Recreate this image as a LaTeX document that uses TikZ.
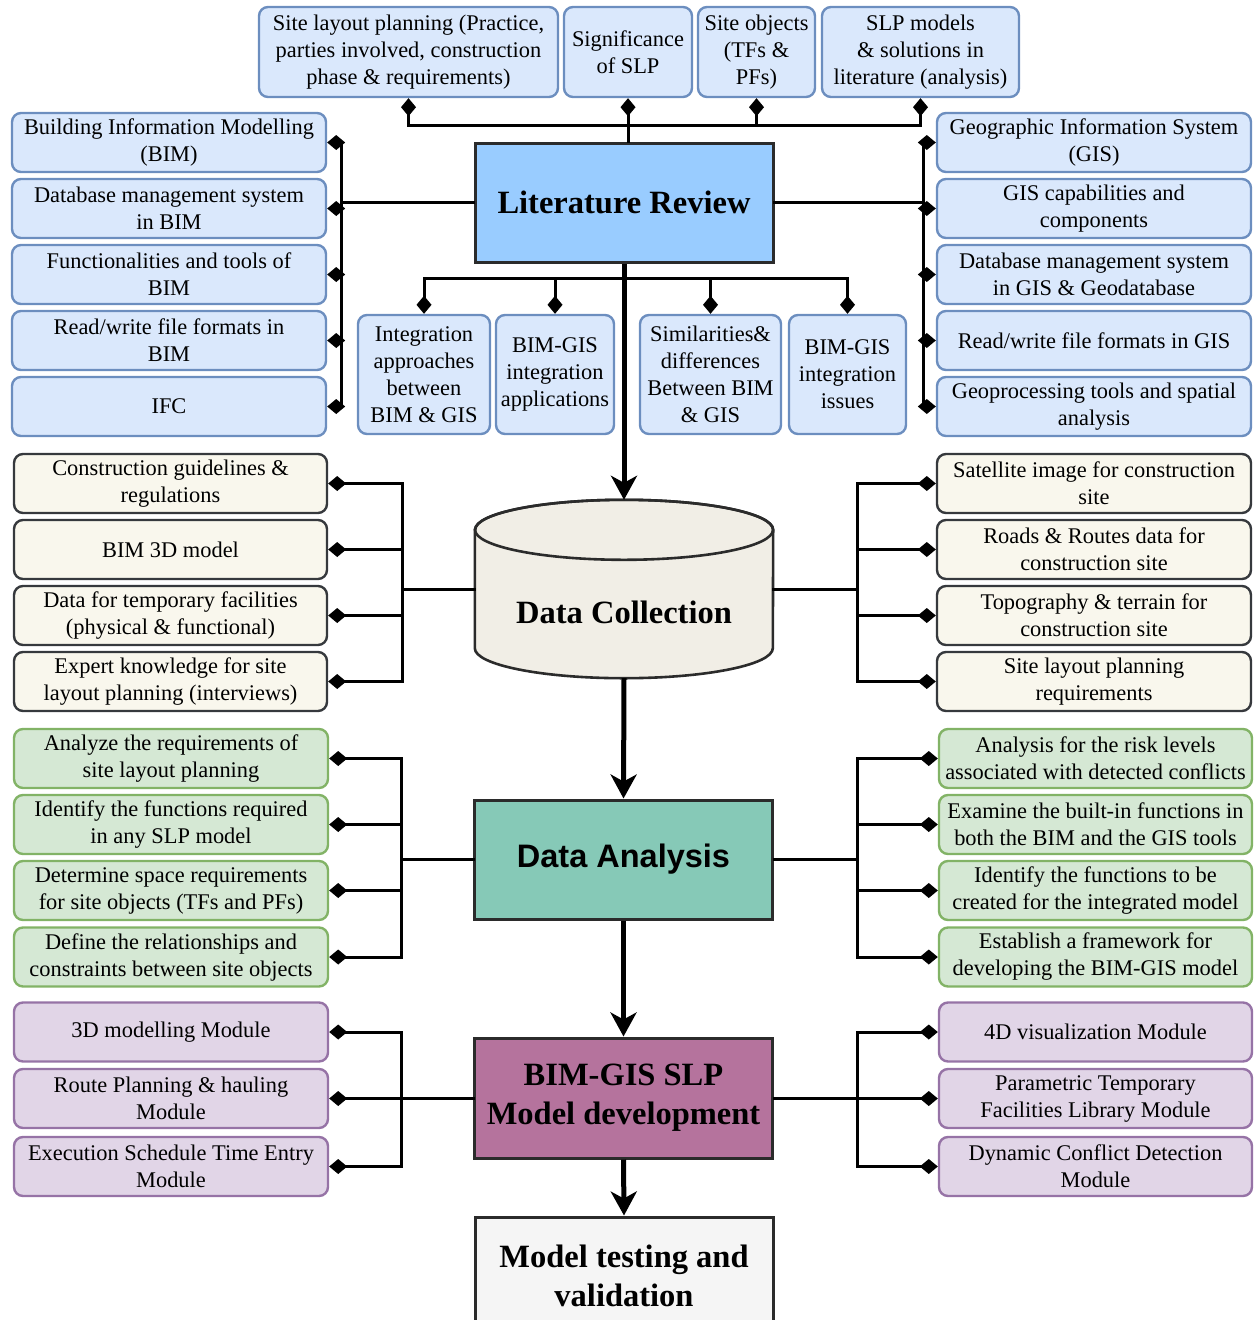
\documentclass[tikz,border=0pt]{standalone}
\usepackage{fontspec}
\setmainfont{Liberation Serif}
\newfontfamily\headsans{Liberation Sans}
\usetikzlibrary{arrows.meta,calc}

\definecolor{bluefill}{HTML}{DAE8FC}
\definecolor{blueline}{HTML}{6C8EBF}
\definecolor{litfill}{HTML}{99CCFF}
\definecolor{beigefill}{HTML}{F9F7ED}
\definecolor{beigeline}{HTML}{36393D}
\definecolor{cylfill}{HTML}{F1EEE6}
\definecolor{greenfill}{HTML}{D5E8D4}
\definecolor{greenline}{HTML}{82B366}
\definecolor{tealfill}{HTML}{86C9B7}
\definecolor{purplefill}{HTML}{E1D5E7}
\definecolor{purpleline}{HTML}{9673A6}
\definecolor{modelfill}{HTML}{B5739D}
\definecolor{testfill}{HTML}{F5F5F5}
\definecolor{hubline}{HTML}{2B2B2B}

\begin{document}
\begin{tikzpicture}[x=1pt,y=-1pt,
  box/.style={draw, rounded corners=9pt, line width=2.4pt, align=center, inner sep=1pt,
    font=\fontsize{22.4}{27}\selectfont},
  bluebox/.style={box, draw=blueline, fill=bluefill},
  beigebox/.style={box, draw=beigeline, fill=beigefill},
  greenbox/.style={box, draw=greenline, fill=greenfill},
  purplebox/.style={box, draw=purpleline, fill=purplefill},
  sidebox/.style={minimum width=314pt, minimum height=59pt},
  bigfont/.style={font=\fontsize{32.5}{39}\selectfont\bfseries},
  hub/.style={draw=hubline, line width=3pt, align=center, minimum width=298pt, minimum height=119pt, bigfont},
  link/.style={line width=3pt, line cap=rect},
  dia/.style={line width=3pt, -{Diamond[length=18pt,width=15pt]}},
  flow/.style={line width=5pt, -{Stealth[length=24pt,width=26pt,inset=7pt]}},
]
\useasboundingbox (0,0) rectangle (1259,1320);

% ---------- main stages ----------
\node[hub, fill=litfill] (LR) at (624,202.5) {Literature Review};

% data collection: a cylinder drawn around an empty frame node
\node[minimum width=298pt, minimum height=178pt, inner sep=0pt] (DC) at (624,589) {};
\path[draw=hubline, fill=cylfill, line width=2.6pt]
  ($(DC.north west)+(0,30)$) -- ($(DC.south west)+(0,-30)$)
  arc[start angle=180, end angle=360, x radius=149pt, y radius=30pt]
  -- ($(DC.north east)+(0,30)$)
  arc[start angle=0, end angle=180, x radius=149pt, y radius=30pt] -- cycle;
\draw[draw=hubline, line width=2.6pt] ($(DC.north)+(0,30)$) ellipse [x radius=149pt, y radius=30pt];
\node[bigfont] (DCtext) at ($(DC.center)+(0,23)$) {Data Collection};

\node[hub, fill=tealfill, font=\fontsize{32.5}{39}\selectfont\headsans\bfseries] (DA) at (623.5,859.5) {Data Analysis};
\node[hub, fill=modelfill, minimum height=120pt] (BG) at (623.5,1098) {BIM-GIS SLP\\Model development};
\node[hub, fill=testfill, minimum height=118pt] (FIN) at (624,1276) {Model testing and\\validation};

% ---------- literature review: top row ----------
\node[bluebox, minimum width=299pt, minimum height=90pt] (T1) at (408.5,52)
  {Site layout planning (Practice,\\parties involved, construction\\phase \& requirements)};
\node[bluebox, minimum width=128pt, minimum height=90pt] (T2) at (628,52) {Significance\\of SLP};
\node[bluebox, minimum width=117pt, minimum height=90pt] (T3) at (756.5,52) {Site objects\\(TFs \&\\PFs)};
\node[bluebox, minimum width=197pt, minimum height=90pt] (T4) at (920.5,52)
  {SLP models\\\& solutions in\\literature (analysis)};

% ---------- literature review: left column ----------
\node[bluebox, sidebox] (L1) at (169,142.5) {Building Information Modelling\\(BIM)};
\node[bluebox, sidebox] (L2) at (169,208.5) {Database management system\\in BIM};
\node[bluebox, sidebox] (L3) at (169,274.5) {Functionalities and tools of\\BIM};
\node[bluebox, sidebox] (L4) at (169,340.5) {Read/write file formats in\\BIM};
\node[bluebox, sidebox] (L5) at (169,406.5) {IFC};

% ---------- literature review: right column ----------
\node[bluebox, sidebox] (R1) at (1094,142.5) {Geographic Information System\\(GIS)};
\node[bluebox, sidebox] (R2) at (1094,208.5) {GIS capabilities and\\components};
\node[bluebox, sidebox] (R3) at (1094,274.5) {Database management system\\in GIS \& Geodatabase};
\node[bluebox, sidebox] (R4) at (1094,340.5) {Read/write file formats in GIS};
\node[bluebox, sidebox] (R5) at (1094,406.5) {Geoprocessing tools and spatial\\analysis};

% ---------- literature review: integration row ----------
\node[bluebox, minimum width=132pt, minimum height=119pt] (M1) at (424,374.5)
  {Integration\\approaches\\between\\BIM \& GIS};
\node[bluebox, minimum width=118pt, minimum height=119pt] (M2) at (555,374.5)
  {BIM-GIS\\integration\\applications};
\node[bluebox, minimum width=141pt, minimum height=119pt] (M3) at (710.5,374.5)
  {Similarities\&\\differences\\Between BIM\\\& GIS};
\node[bluebox, minimum width=117pt, minimum height=119pt] (M4) at (847.5,374.5)
  {BIM-GIS\\integration\\issues};

% ---------- data collection ----------
\node[beigebox, sidebox, minimum width=313pt] (D1) at (170.5,483.5) {Construction guidelines \&\\regulations};
\node[beigebox, sidebox, minimum width=313pt] (D2) at (170.5,549.5) {BIM 3D model};
\node[beigebox, sidebox, minimum width=313pt] (D3) at (170.5,615.5) {Data for temporary facilities\\(physical \& functional)};
\node[beigebox, sidebox, minimum width=313pt] (D4) at (170.5,681.5) {Expert knowledge for site\\layout planning (interviews)};

\node[beigebox, sidebox] (E1) at (1094,483.5) {Satellite image for construction\\site};
\node[beigebox, sidebox] (E2) at (1094,549.5) {Roads \& Routes data for\\construction site};
\node[beigebox, sidebox] (E3) at (1094,615.5) {Topography \& terrain for\\construction site};
\node[beigebox, sidebox] (E4) at (1094,681.5) {Site layout planning\\requirements};

% ---------- data analysis ----------
\node[greenbox, sidebox] (A1) at (171,758.5) {Analyze the requirements of\\site layout planning};
\node[greenbox, sidebox] (A2) at (171,824.5) {Identify the functions required\\in any SLP model};
\node[greenbox, sidebox] (A3) at (171,890.5) {Determine space requirements\\for site objects (TFs and PFs)};
\node[greenbox, sidebox] (A4) at (171,957) {Define the relationships and\\constraints between site objects};

\node[greenbox, sidebox, minimum width=313pt] (B1) at (1095.5,758.5) {Analysis for the risk levels\\associated with detected conflicts};
\node[greenbox, sidebox, minimum width=313pt] (B2) at (1095.5,824.5) {Examine the built-in functions in\\both the BIM and the GIS tools};
\node[greenbox, sidebox, minimum width=313pt] (B3) at (1095.5,890.5) {Identify the functions to be\\created for the integrated model};
\node[greenbox, sidebox, minimum width=313pt] (B4) at (1095.5,957) {Establish a framework for\\developing the BIM-GIS model};

% ---------- model development ----------
\node[purplebox, sidebox] (P1) at (171,1032) {3D modelling Module};
\node[purplebox, sidebox] (P2) at (171,1098.5) {Route Planning \& hauling\\Module};
\node[purplebox, sidebox] (P3) at (171,1166.5) {Execution Schedule Time Entry\\Module};

\node[purplebox, sidebox, minimum width=313pt] (Q1) at (1095.5,1032) {4D visualization Module};
\node[purplebox, sidebox, minimum width=313pt] (Q2) at (1095.5,1098.5) {Parametric Temporary\\Facilities Library Module};
\node[purplebox, sidebox, minimum width=313pt] (Q3) at (1095.5,1166.5) {Dynamic Conflict Detection\\Module};

% ---------- bus positions ----------
\coordinate (tbus) at (0,125);
\coordinate (mbus) at (0,278);
\coordinate (lbus) at (341,0);
\coordinate (rbus) at (923,0);
\coordinate (dlbus) at (402,0);
\coordinate (drbus) at (857,0);
\coordinate (albus) at (401,0);
\coordinate (arbus) at (857,0);

% top row
\draw[link] (T1.south |- tbus) -- (T4.south |- tbus);
\draw[link] (T2.south |- tbus) -- (T2.south |- LR.north);
\foreach \n in {T1,T2,T3,T4} \draw[dia] (\n.south |- tbus) -- (\n.south);

% left and right columns of the review
\draw[link] (LR.west) -- (LR.west -| lbus);
\draw[link] (lbus |- L1.east) -- (lbus |- L5.east);
\foreach \n in {L1,L2,L3,L4,L5} \draw[dia] (lbus |- \n.east) -- (\n.east);
\draw[link] (LR.east) -- (LR.east -| rbus);
\draw[link] (rbus |- R1.west) -- (rbus |- R5.west);
\foreach \n in {R1,R2,R3,R4,R5} \draw[dia] (rbus |- \n.west) -- (\n.west);

% integration row
\draw[link] (M1.north |- mbus) -- (M4.north |- mbus);
\foreach \n in {M1,M2,M3,M4} \draw[dia] (\n.north |- mbus) -- (\n.north);

% data collection branches
\draw[link] (DC.west) -- (DC.west -| dlbus);
\draw[link] (dlbus |- D1.east) -- (dlbus |- D4.east);
\foreach \n in {D1,D2,D3,D4} \draw[dia] (dlbus |- \n.east) -- (\n.east);
\draw[link] (DC.east) -- (DC.east -| drbus);
\draw[link] (drbus |- E1.west) -- (drbus |- E4.west);
\foreach \n in {E1,E2,E3,E4} \draw[dia] (drbus |- \n.west) -- (\n.west);

% data analysis branches
\draw[link] (DA.west) -- (DA.west -| albus);
\draw[link] (albus |- A1.east) -- (albus |- A4.east);
\foreach \n in {A1,A2,A3,A4} \draw[dia] (albus |- \n.east) -- (\n.east);
\draw[link] (DA.east) -- (DA.east -| arbus);
\draw[link] (arbus |- B1.west) -- (arbus |- B4.west);
\foreach \n in {B1,B2,B3,B4} \draw[dia] (arbus |- \n.west) -- (\n.west);

% model development branches
\draw[link] (BG.west) -- (BG.west -| albus);
\draw[link] (albus |- P1.east) -- (albus |- P3.east);
\foreach \n in {P1,P2,P3} \draw[dia] (albus |- \n.east) -- (\n.east);
\draw[link] (BG.east) -- (BG.east -| arbus);
\draw[link] (arbus |- Q1.west) -- (arbus |- Q3.west);
\foreach \n in {Q1,Q2,Q3} \draw[dia] (arbus |- \n.west) -- (\n.west);

% main flow
\draw[flow] (LR.south) -- (DC.north);
\draw[flow] (DC.south) -- (DA.north);
\draw[flow] (DA.south) -- (BG.north);
\draw[flow] (BG.south) -- (FIN.north);
\end{tikzpicture}
\end{document}
